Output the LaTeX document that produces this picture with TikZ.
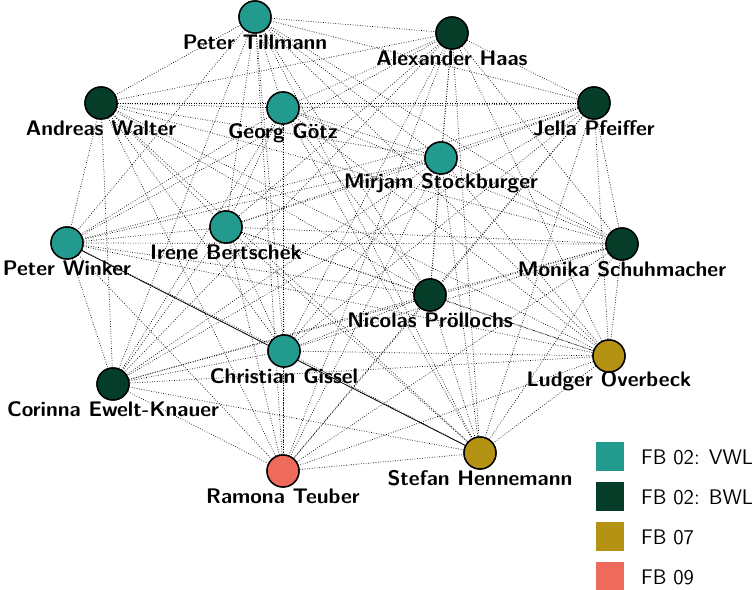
\documentclass[tikz,border=0pt]{standalone}
\usetikzlibrary{positioning}
\definecolor{vwl}{HTML}{229A8E}
\definecolor{bwl}{HTML}{053D28}
\definecolor{fbsieben}{HTML}{B39214}
\definecolor{fbneun}{HTML}{EE6A5B}
\begin{document}
\begin{tikzpicture}[x=0.02cm,y=-0.02cm,
  person/.style={circle,draw=black,thick,minimum size=0.64cm,inner sep=0pt},
  pname/.style={font=\sffamily\bfseries\large,inner sep=0pt},
  link/.style={densely dotted,thin},
  legbox/.style={minimum size=0.58cm,inner sep=0pt}]
\useasboundingbox (0,0) rectangle (752,590);

% People
\foreach \id/\x/\y/\col in {
  tillmann/255/17/vwl, haas/452/33/bwl, walter/101/103/bwl, goetz/283/108/vwl,
  pfeiffer/594/103/bwl, stockburger/441/158/vwl, bertschek/226/227/vwl,
  winker/67/243/vwl, schuhmacher/622/244/bwl, proellochs/430/295/bwl,
  gissel/284/351/vwl, overbeck/609/356/fbsieben, ewelt/113/384/bwl,
  teuber/283/471/fbneun, hennemann/480/453/fbsieben} {
  \node[person,fill=\col] (\id) at (\x,\y) {};
}

% Links
\foreach \a [count=\i] in {tillmann,haas,walter,goetz,pfeiffer,stockburger,bertschek,winker,schuhmacher,proellochs,gissel,overbeck,ewelt,teuber,hennemann} {
  \foreach \b [count=\j] in {tillmann,haas,walter,goetz,pfeiffer,stockburger,bertschek,winker,schuhmacher,proellochs,gissel,overbeck,ewelt,teuber,hennemann} {
    \ifnum\i<\j
      \draw[link] (\a) -- (\b);
    \fi
  }
}
\draw[thin] (winker) -- (hennemann);

% Redraw nodes on top
\foreach \id/\col in {tillmann/vwl,haas/bwl,walter/bwl,goetz/vwl,pfeiffer/bwl,stockburger/vwl,bertschek/vwl,winker/vwl,schuhmacher/bwl,proellochs/bwl,gissel/vwl,overbeck/fbsieben,ewelt/bwl,teuber/fbneun,hennemann/fbsieben} {
  \node[person,fill=\col] at (\id) {};
}

% Names
\foreach \id/\txt in {tillmann/Peter Tillmann,haas/Alexander Haas,walter/Andreas Walter,
  goetz/Georg Götz,pfeiffer/Jella Pfeiffer,stockburger/Mirjam Stockburger,
  bertschek/Irene Bertschek,winker/Peter Winker,schuhmacher/Monika Schuhmacher,
  proellochs/Nicolas Pröllochs,gissel/Christian Gissel,overbeck/Ludger Overbeck,
  ewelt/Corinna Ewelt-Knauer,teuber/Ramona Teuber,hennemann/Stefan Hennemann} {
  \node[pname,below=0.5cm of \id.center,anchor=center] (\id-name) {\txt};
}

% Legend
\foreach \k/\col/\txt [count=\n] in {a/vwl/FB 02: VWL,b/bwl/FB 02: BWL,c/fbsieben/FB 07,d/fbneun/FB 09} {
  \node[legbox,fill=\col] (leg\k) at (610,417+40*\n) {};
  \node[font=\sffamily\large,right=0.2cm of leg\k] (leg\k-txt) {\txt};
}
\end{tikzpicture}
\end{document}
